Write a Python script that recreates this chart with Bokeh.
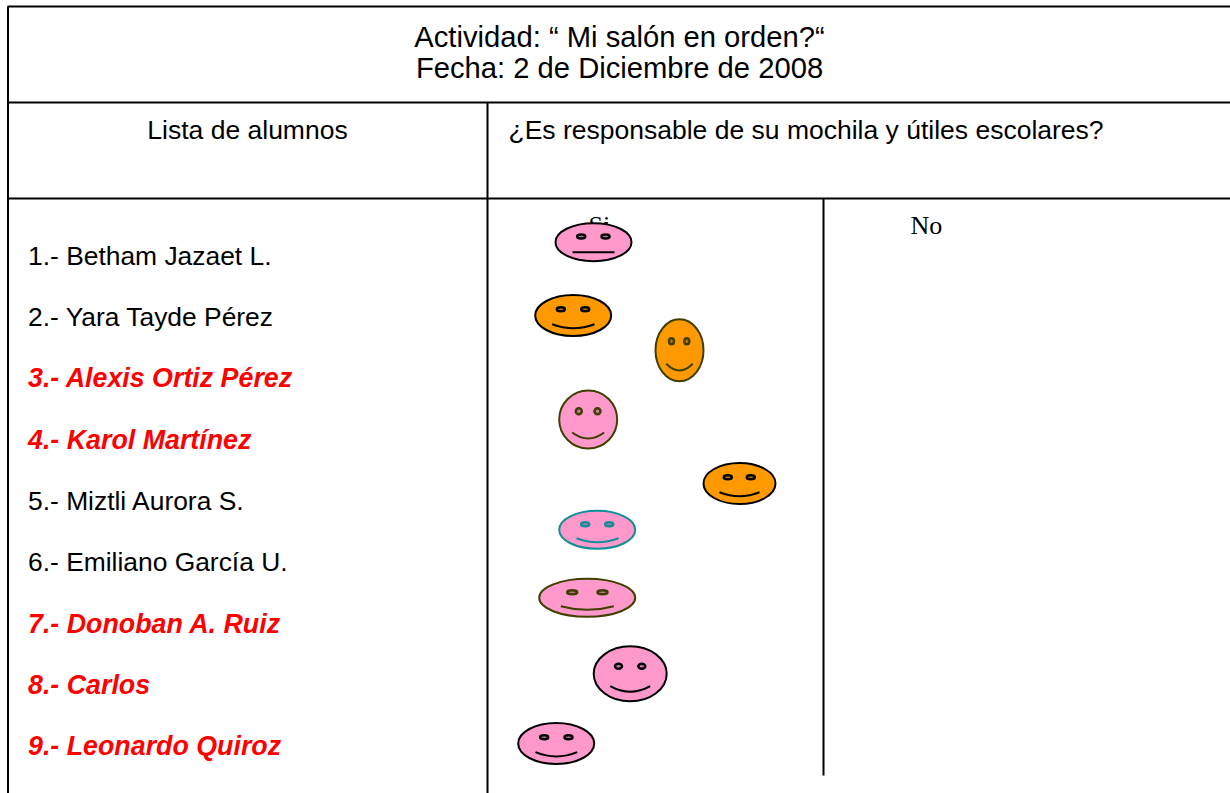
from bokeh.plotting import figure
from bokeh.embed import file_html
from bokeh.resources import INLINE
from bokeh.core.properties import value
from bokeh.models import Range1d

title_lines = ["Actividad: “ Mi salón en orden?“", "Fecha: 2 de Diciembre de 2008"]
col_left = "Lista de alumnos"
col_right = "¿Es responsable de su mochila y útiles escolares?"
col_si = "Si"
col_no = "No"
students = ["1.- Betham Jazaet L.", "2.- Yara Tayde Pérez", "3.- Alexis Ortiz Pérez", "4.- Karol Martínez",
            "5.- Miztli Aurora S.", "6.- Emiliano García U.", "7.- Donoban A. Ruiz", "8.- Carlos", "9.- Leonardo Quiroz"]
flagged = [False, False, True, True, False, False, True, True, True]
student_y = [255, 316, 377, 439, 500, 561, 623, 684, 745]

PINK, ORANGE = "#ff99cc", "#ff9900"
PINK_EYE, ORANGE_EYE = "#cc7aa3", "#cc7a00"
BLACK, OLIVE, TEAL = "#000000", "#3f3f00", "#0f8f99"
face_x = [593, 572.7, 679, 587.7, 739, 596.7, 586.7, 629.7, 555.7]
face_y = [241.7, 315, 349.7, 419, 483, 529.3, 597.3, 673.3, 743]
face_w = [76, 76, 48, 58, 72, 76, 96, 73, 76]
face_h = [38, 41, 62, 58, 41, 38, 38, 55, 41]
face_fill = [PINK, ORANGE, ORANGE, PINK, ORANGE, PINK, PINK, PINK, PINK]
eye_fill = [PINK_EYE, ORANGE_EYE, ORANGE_EYE, PINK_EYE, ORANGE_EYE, PINK_EYE, PINK_EYE, PINK_EYE, PINK_EYE]
face_line = [BLACK, BLACK, OLIVE, OLIVE, BLACK, TEAL, OLIVE, BLACK, BLACK]
eye_l = [580.7, 560.3, 671, 578.3, 727.3, 584.7, 571.7, 618, 543.7]
eye_r = [605, 584.7, 686.3, 597, 750.3, 608.7, 602, 641.3, 568]
eye_y = [236, 308.7, 340.7, 410.7, 476.7, 523.7, 591.7, 665.7, 736.7]
eye_w = [8, 8, 5, 6, 8, 8, 10, 7, 8]
eye_h = [4, 4, 6, 6, 4, 4, 4, 5, 4]
mouth_l = [572, 551.7, 665.7, 571.7, 719, 576, 560.3, 609.7, 535]
mouth_r = [614, 594, 692.3, 603.7, 759, 618, 613.3, 649.7, 576.7]
mouth_y = [251.7, 323.7, 363.3, 432, 491.7, 537.7, 605.7, 685.7, 751.7]
mouth_low = [251.7, 327.7, 370, 438, 495.7, 541.7, 609.3, 691.3, 756]

p = figure(width=1230, height=793, output_backend="svg", toolbar_location=None,
           x_range=Range1d(0, 1230), y_range=Range1d(793, 0), min_border=0,
           outline_line_color=None, background_fill_color="white")
p.xaxis.visible = False
p.yaxis.visible = False
p.grid.visible = False

# table rules
p.segment(x0=[7, 7, 7, 487, 823], y0=[6, 102, 198, 102, 198],
          x1=[1230, 1230, 1230, 487, 823], y1=[6, 102, 198, 793, 775],
          line_color="black", line_width=2)
p.segment(x0=[7.5], y0=[6], x1=[7.5], y1=[793], line_color="black", line_width=2)

sans = value("Liberation Sans")
serif = value("Liberation Serif")
p.text(x=[619, 619], y=[36, 67], text=title_lines, text_font=sans, text_font_size="29.2px",
       text_align="center", text_baseline="middle", text_color="black")
p.text(x=[247], y=[129], text=[col_left], text_font=sans, text_font_size="26.5px",
       text_align="center", text_baseline="middle", text_color="black")
p.text(x=[508], y=[129], text=[col_right], text_font=sans, text_font_size="26.5px",
       text_align="left", text_baseline="middle", text_color="black")
p.text(x=[588, 910], y=[225, 225], text=[col_si, col_no], text_font=serif, text_font_size="26px",
       text_align="left", text_baseline="middle", text_color="black")

for name, flag, y in zip(students, flagged, student_y):
    p.text(x=[27.5], y=[y], text=[name], text_font=sans,
           text_font_size="26.8px" if flag else "26.4px",
           text_font_style="bold italic" if flag else "normal",
           text_color="#ff0000" if flag else "black",
           text_align="left", text_baseline="middle")

# faces
p.ellipse(x=face_x, y=face_y, width=face_w, height=face_h, fill_color=face_fill,
          line_color=face_line, line_width=2)
for ex in (eye_l, eye_r):
    p.ellipse(x=ex, y=eye_y, width=eye_w, height=eye_h, fill_color=eye_fill,
              line_color=face_line, line_width=2.5)
p.quadratic(x0=mouth_l, y0=mouth_y, x1=mouth_r, y1=mouth_y,
            cx=[(a + b) / 2 for a, b in zip(mouth_l, mouth_r)],
            cy=[2 * l - m for l, m in zip(mouth_low, mouth_y)],
            line_color=face_line, line_width=2)

open("out.html", "w").write(file_html(p, INLINE))
